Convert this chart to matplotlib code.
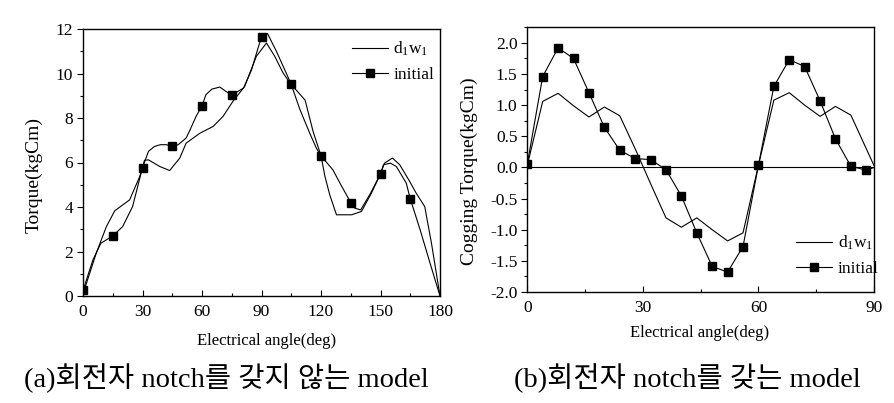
import matplotlib
matplotlib.use("Agg")
import matplotlib.pyplot as plt
from matplotlib.ticker import MultipleLocator

plt.rcParams['font.family'] = ['Liberation Serif', 'Noto Sans CJK KR']
plt.rcParams['mathtext.fontset'] = 'custom'
plt.rcParams['mathtext.rm'] = 'Liberation Serif'
plt.rcParams['mathtext.it'] = 'Liberation Serif'

# ---------------- data: panel (a) ----------------
a_init_x = [0, 5, 9, 15, 20, 25, 30, 33, 36, 39, 42, 45, 48, 52, 54, 57, 60, 62, 65, 69,
            72, 75, 81, 85, 88, 90, 93, 97.5, 101.7, 105, 112, 116, 120, 126, 130, 135,
            137, 140, 145, 150, 151.5, 155, 158, 163, 165, 170, 175, 180]
a_init_y = [0.25, 1.62, 2.37, 2.7, 3.12, 4.02, 5.77, 6.5, 6.72, 6.8, 6.8, 6.72, 6.8, 7.1,
            7.47, 8.07, 8.55, 9.05, 9.3, 9.39, 9.2, 9.03, 9.35, 10.17, 11.07, 11.64, 11.8,
            11.0, 10.17, 9.51, 8.8, 7.4, 6.3, 5.67, 5.0, 4.2, 3.95, 3.87, 4.62, 5.49, 5.9,
            5.97, 5.82, 5.07, 4.37, 2.97, 1.47, 0.0]
a_d1w1_x = [0, 6.7, 11.8, 16, 23.5, 28.6, 30, 31, 33, 38.7, 43.7, 48.8, 52, 59, 65.6, 70.6,
            75.6, 81.5, 87.4, 92.5, 96.7, 100.9, 105, 109.3, 114.3, 117.7, 120, 122, 124.4,
            127.8, 135.4, 140.4, 145.4, 150, 152, 156, 159.7, 164.7, 168, 172.3, 175.7, 180]
a_d1w1_y = [0.1, 1.93, 3.12, 3.83, 4.32, 5.37, 5.77, 6.1, 6.12, 5.82, 5.64, 6.2, 6.87, 7.32,
            7.62, 8.07, 8.75, 9.42, 10.77, 11.37, 10.77, 10.02, 9.5, 8.4, 7.32, 6.64, 6.3,
            5.37, 4.55, 3.65, 3.65, 3.8, 4.62, 5.49, 5.97, 6.2, 5.9, 5.15, 4.62, 4.02, 2.37, 0.0]
a_marker_angles = [0, 15, 30, 45, 60, 75, 90, 105, 120, 135, 150, 165]

# ---------------- data: panel (b) ----------------
b_x = [0, 4, 8, 12, 16, 20, 24, 28, 32, 36, 40, 44, 48, 52, 56, 60, 64, 68, 72, 76, 80, 84, 88, 90]
b_init_y = [0.056, 1.46, 1.92, 1.75, 1.20, 0.645, 0.276, 0.142, 0.126, -0.035, -0.46, -1.05,
            -1.59, -1.68, -1.27, 0.035, 1.30, 1.73, 1.62, 1.07, 0.458, 0.019, -0.045, 0.0]
b_d1w1_y = [0.035, 1.06, 1.19, 0.99, 0.81, 0.97, 0.83, 0.30, -0.26, -0.81, -0.96, -0.81,
            -1.0, -1.18, -1.05, 0.035, 1.08, 1.20, 1.0, 0.82, 0.98, 0.84, 0.30, 0.03]

label_d1w1 = r'd$_1$w$_1$'
label_init = 'initial'
xlabel = 'Electrical angle(deg)'
ylabel_a = 'Torque(kgCm)'
ylabel_b = 'Cogging Torque(kgCm)'
caption_a = '(a)회전자 notch를 갖지 않는 model'
caption_b = '(b)회전자 notch를 갖는 model'

W, H = 894, 403
fig = plt.figure(figsize=(W / 100, H / 100), dpi=100)

def frac(l, r, t, b):
    return [l / W, 1 - b / H, (r - l) / W, (b - t) / H]

ax1 = fig.add_axes(frac(83, 440, 29, 296))
ax2 = fig.add_axes(frac(527.3, 874, 27.3, 292))

lw = 0.8
ms = 6

# panel (a)
ax1.plot(a_d1w1_x, a_d1w1_y, color='black', lw=lw, label=label_d1w1)
idx = [a_init_x.index(v) for v in a_marker_angles]
ax1.plot(a_init_x, a_init_y, color='black', lw=lw, marker='s', ms=ms,
         markevery=idx, label=label_init)
ax1.set_xlim(0, 180)
ax1.set_ylim(0, 12)
ax1.xaxis.set_major_locator(MultipleLocator(30))
ax1.xaxis.set_minor_locator(MultipleLocator(15))
ax1.yaxis.set_major_locator(MultipleLocator(2))
ax1.yaxis.set_minor_locator(MultipleLocator(1))

# panel (b)
ax2.axhline(0, color='black', lw=lw)
ax2.plot(b_x, b_d1w1_y, color='black', lw=lw, label=label_d1w1)
ax2.plot(b_x, b_init_y, color='black', lw=lw, marker='s', ms=ms,
         markevery=list(range(len(b_x) - 1)), label=label_init)
ax2.set_xlim(0, 90)
ax2.set_ylim(-2.0, 2.25)
ax2.xaxis.set_major_locator(MultipleLocator(30))
ax2.xaxis.set_minor_locator(MultipleLocator(15))
ax2.yaxis.set_major_locator(MultipleLocator(0.5))
ax2.yaxis.set_minor_locator(MultipleLocator(0.25))
ax2.yaxis.set_major_formatter(matplotlib.ticker.FormatStrFormatter('%.1f'))

for ax in (ax1, ax2):
    for s in ax.spines.values():
        s.set_linewidth(1.0)
    ax.tick_params(axis='x', which='major', direction='in', length=4, width=0.8,
                   labelsize=12.5, pad=6)
    ax.tick_params(axis='x', which='minor', direction='in', length=2.5, width=0.8)
    ax.tick_params(axis='y', which='major', direction='out', length=4, width=0.8,
                   labelsize=12.5, pad=3)
    ax.tick_params(axis='y', which='minor', direction='out', length=2.5, width=0.8)

ax1.set_ylabel(ylabel_a, fontsize=14)
ax1.yaxis.set_label_coords(-0.112, 0.453)
ax1.set_xlabel(xlabel, fontsize=12, va='center')
ax1.xaxis.set_label_coords(0.513, -0.169)

ax2.set_ylabel(ylabel_b, fontsize=14)
ax2.yaxis.set_label_coords(-0.142, 0.457)
ax2.set_xlabel(xlabel, fontsize=12, va='center')
ax2.xaxis.set_label_coords(0.498, -0.155)

leg_kw = dict(frameon=False, fontsize=12.5, borderpad=0, borderaxespad=0,
              handlelength=2.1, handletextpad=0.3, labelspacing=0.5, loc='upper left')
ax1.legend(bbox_to_anchor=(0.753, 0.96), **leg_kw)
ax2.legend(bbox_to_anchor=(0.775, 0.219), **leg_kw)

fig.text(226 / W, 1 - 378 / H, caption_a, ha='center', va='center', fontsize=20.5)
fig.text(687 / W, 1 - 378 / H, caption_b, ha='center', va='center', fontsize=20.5)

fig.savefig('out.png', dpi=100)
